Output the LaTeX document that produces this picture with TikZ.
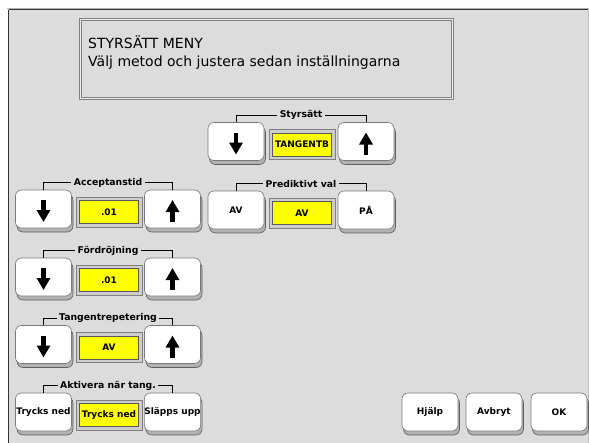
\documentclass[tikz,border=0pt]{standalone}
\usepackage{fontspec}
\setmainfont{DejaVu Sans}
\usetikzlibrary{shadows,arrows.meta}
\definecolor{panel}{RGB}{220,220,220}
\definecolor{btnedge}{RGB}{120,120,120}
\definecolor{shadowfill}{RGB}{178,178,178}
\definecolor{shadowedge}{RGB}{95,95,95}
\definecolor{dispyellow}{RGB}{255,255,0}
\definecolor{framefill}{RGB}{205,205,205}
\tikzset{
  btn/.style={draw=btnedge, line width=0.6pt, fill=white, rounded corners=6pt,
    minimum width=56pt, minimum height=38pt, inner xsep=0pt,
    font=\fontsize{9}{10}\selectfont\bfseries,
    copy shadow={shadow xshift=1.5pt, shadow yshift=-4pt, fill=shadowfill, draw=shadowedge}},
  dispframe/.style={draw=gray, line width=0.6pt, fill=framefill, minimum width=66pt,
    minimum height=30pt, inner sep=0pt},
  disp/.style={draw=black!65, line width=0.5pt, fill=dispyellow, minimum width=59pt,
    minimum height=23pt, inner sep=0pt, font=\fontsize{9}{10}\selectfont\bfseries},
  brk/.style={draw=black, line width=0.9pt},
  brklabel/.style={fill=panel, inner xsep=2.5pt, inner ysep=0.5pt,
    font=\fontsize{9.3}{10}\selectfont\bfseries},
  glyph/.style={line width=4.5pt, -{Triangle[width=13pt,length=12pt]}},
  titletext/.style={anchor=base west, inner sep=0pt, font=\fontsize{14}{16}\selectfont},
}
\begin{document}
\begin{tikzpicture}[x=1pt, y=-1pt]
\useasboundingbox (0,0) rectangle (589,442);
\fill[white] (0,0) rectangle (589,442);
% panel
\fill[panel] (8,9) rectangle (589,443);
\draw[gray!60, line width=1pt] (7,8) -- (589,8);
\draw[black!80, line width=1pt] (8.5,9.5) -- (588,9.5);
\draw[black!80, line width=1pt] (8.5,9.5) -- (8.5,443);
\draw[gray!50, line width=1pt] (588,9.5) -- (588,443);
% title
\node[draw=gray, line width=0.6pt, double=panel!50!white, double distance=1.2pt,
  fill=panel, minimum width=372pt, minimum height=79pt, inner sep=0pt] (title) at (266.5,59) {};
\node[titletext] (title1) at (88,48) {STYRSÄTT MENY};
\node[titletext] (title2) at (88,66) {Välj metod och justera sedan inställningarna};

% ---------- Styrsätt ----------
\node[btn] (sDown) at (236,141.5) {};
\node[dispframe] (sFrame) at (302,144.5) {};
\node[disp] (sDisp) at (302,144.5) {TANGENTB};
\node[btn] (sUp) at (366,141.5) {};
\draw[glyph] ([yshift=9pt]sDown.center) -- ([yshift=-13pt]sDown.center);
\draw[glyph] ([yshift=-13pt]sUp.center) -- ([yshift=9pt]sUp.center);
\draw[brk] (sDown.north) -- ++(0,-7) -| (sUp.north);
\path (sDown.north) -- (sUp.north) coordinate[midway] (sMid);
\node[brklabel] (sLabel) at ([yshift=7pt]sMid) {Styrsätt};

% ---------- Prediktivt val ----------
\node[btn] (pLeft) at (236,210) {AV};
\node[dispframe] (pFrame) at (302,213) {};
\node[disp] (pDisp) at (302,213) {AV};
\node[btn] (pRight) at (366,210) {PÅ};
\draw[brk] (pLeft.north) -- ++(0,-7) -| (pRight.north);
\path (pLeft.north) -- (pRight.north) coordinate[midway] (pMid);
\node[brklabel] (pLabel) at ([yshift=7pt]pMid) {Prediktivt val};

% ---------- Acceptanstid ----------
\node[btn] (aDown) at (43.5,209) {};
\node[dispframe] (aFrame) at (109,212) {};
\node[disp] (aDisp) at (109,212) {.01};
\node[btn] (aUp) at (172.5,209) {};
\draw[glyph] ([yshift=9pt]aDown.center) -- ([yshift=-13pt]aDown.center);
\draw[glyph] ([yshift=-13pt]aUp.center) -- ([yshift=9pt]aUp.center);
\draw[brk] (aDown.north) -- ++(0,-7) -| (aUp.north);
\path (aDown.north) -- (aUp.north) coordinate[midway] (aMid);
\node[brklabel] (aLabel) at ([yshift=7pt]aMid) {Acceptanstid};

% ---------- Fördröjning ----------
\node[btn] (fDown) at (43.5,277) {};
\node[dispframe] (fFrame) at (109,280) {};
\node[disp] (fDisp) at (109,280) {.01};
\node[btn] (fUp) at (172.5,277) {};
\draw[glyph] ([yshift=9pt]fDown.center) -- ([yshift=-13pt]fDown.center);
\draw[glyph] ([yshift=-13pt]fUp.center) -- ([yshift=9pt]fUp.center);
\draw[brk] (fDown.north) -- ++(0,-7) -| (fUp.north);
\path (fDown.north) -- (fUp.north) coordinate[midway] (fMid);
\node[brklabel] (fLabel) at ([yshift=7pt]fMid) {Fördröjning};

% ---------- Tangentrepetering ----------
\node[btn] (tDown) at (43.5,344.5) {};
\node[dispframe] (tFrame) at (109,347.5) {};
\node[disp] (tDisp) at (109,347.5) {AV};
\node[btn] (tUp) at (172.5,344.5) {};
\draw[glyph] ([yshift=9pt]tDown.center) -- ([yshift=-13pt]tDown.center);
\draw[glyph] ([yshift=-13pt]tUp.center) -- ([yshift=9pt]tUp.center);
\draw[brk] (tDown.north) -- ++(0,-7) -| (tUp.north);
\path (tDown.north) -- (tUp.north) coordinate[midway] (tMid);
\node[brklabel] (tLabel) at ([yshift=7pt]tMid) {Tangentrepetering};

% ---------- Aktivera när tang. ----------
\node[btn] (kLeft) at (43.5,412) {Trycks ned};
\node[dispframe] (kFrame) at (109,415) {};
\node[disp] (kDisp) at (109,415) {Trycks ned};
\node[btn] (kRight) at (172.5,412) {Släpps upp};
\draw[brk] (kLeft.north) -- ++(0,-7) -| (kRight.north);
\path (kLeft.north) -- (kRight.north) coordinate[midway] (kMid);
\node[brklabel] (kLabel) at ([yshift=7pt]kMid) {Aktivera när tang.};

% ---------- bottom buttons ----------
\node[btn] (help) at (430,412) {Hjälp};
\node[btn] (cancel) at (494,412) {Avbryt};
\node[btn] (ok) at (559,412) {OK};
\end{tikzpicture}
\end{document}
